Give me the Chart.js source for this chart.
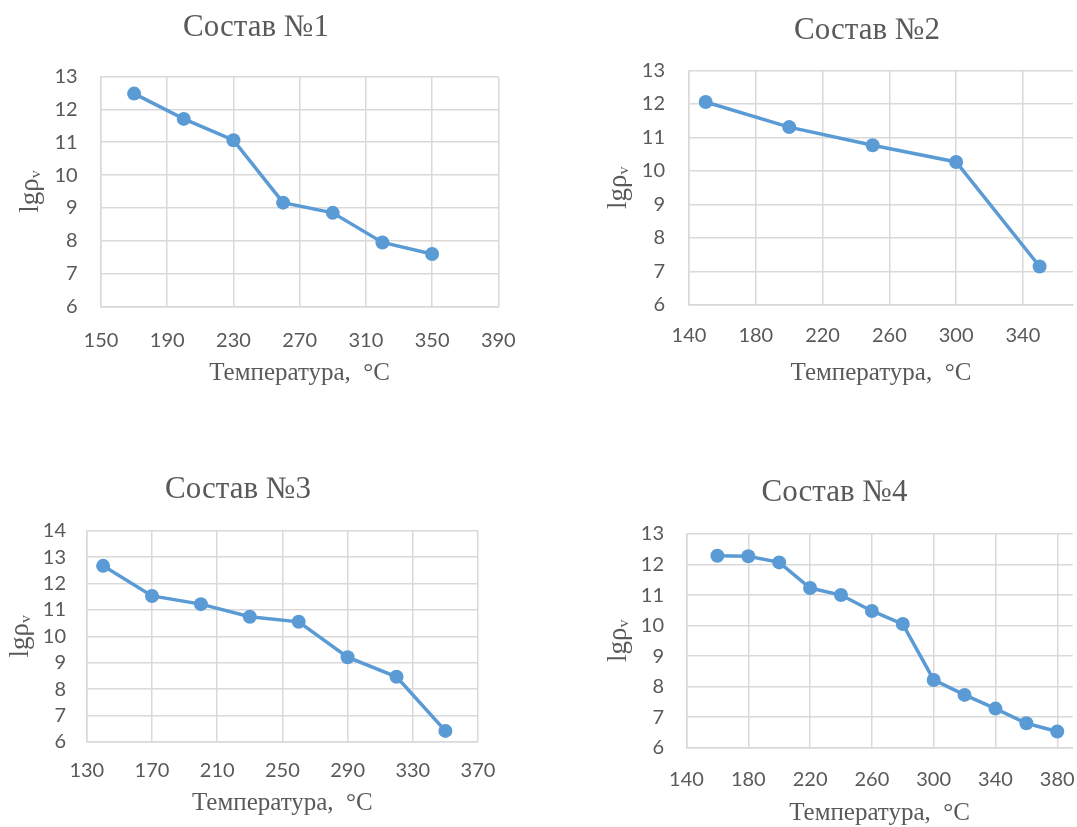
<!DOCTYPE html>
<html>
<head>
<meta charset="utf-8">
<script src="https://cdn.jsdelivr.net/npm/chart.js"></script>
<style>
  html, body { margin: 0; padding: 0; background: #fff; overflow: hidden; width: 1077px; height: 827px; }
  canvas { position: absolute; }
</style>
</head>
<body>
<canvas id="c1" width="545" height="400" style="left:0px;top:0px"></canvas>
<canvas id="c2" width="520" height="400" style="left:560px;top:0px"></canvas>
<canvas id="c3" width="530" height="400" style="left:0px;top:440px"></canvas>
<canvas id="c4" width="540" height="400" style="left:560px;top:440px"></canvas>
<script>
// data
const titles = ["Состав №1", "Состав №2", "Состав №3", "Состав №4"];
const xTitle = "Температура,  °C";
const yTitle = "lgρᵥ";

const temp1 = [170, 200, 230, 260, 290, 320, 350];
const lg1 = [12.48, 11.71, 11.06, 9.16, 8.85, 7.95, 7.6];
const xTicks1 = [150, 190, 230, 270, 310, 350, 390];

const temp2 = [150, 200, 250, 300, 350];
const lg2 = [12.06, 11.31, 10.77, 10.27, 7.15];
const xTicks2 = [140, 180, 220, 260, 300, 340];

const temp3 = [140, 170, 200, 230, 260, 290, 320, 350];
const lg3 = [12.67, 11.53, 11.22, 10.74, 10.55, 9.21, 8.47, 6.42];
const xTicks3 = [130, 170, 210, 250, 290, 330, 370];

const temp4 = [160, 180, 200, 220, 240, 260, 280, 300, 320, 340, 360, 380];
const lg4 = [12.29, 12.27, 12.07, 11.23, 11.0, 10.48, 10.05, 8.22, 7.73, 7.28, 6.8, 6.53];
const xTicks4 = [140, 180, 220, 260, 300, 340, 380];

const BLUE = "#5B9BD5";
const GRID = "#d9d9d9";
const TEXT = "#595959";
const SERIF = '"Liberation Serif", "DejaVu Serif", serif';
const SANS = 'Lato, "Open Sans", sans-serif';

// chart title drawn at a fixed spot, like Excel does
const topTitle = {
  id: "topTitle",
  afterDraw(chart, args, opts) {
    const ctx = chart.ctx;
    ctx.save();
    ctx.font = "31px " + SERIF;
    ctx.fillStyle = TEXT;
    ctx.textAlign = "center";
    ctx.textBaseline = "middle";
    ctx.fillText(opts.text, opts.x, opts.y);
    ctx.restore();
  }
};

function makeChart(id, xs, ys, xticks, o) {
  const pts = xs.map((x, i) => ({ x: x, y: ys[i] }));
  return new Chart(document.getElementById(id), {
    type: "line",
    data: {
      datasets: [{
        data: pts,
        borderColor: BLUE,
        backgroundColor: BLUE,
        borderWidth: 3.5,
        pointRadius: 7,
        pointHoverRadius: 7,
        pointBorderWidth: 0,
        pointBackgroundColor: BLUE,
        tension: 0,
        clip: false
      }]
    },
    options: {
      responsive: false,
      animation: false,
      devicePixelRatio: 1,
      layout: { padding: o.pad },
      plugins: {
        legend: { display: false },
        tooltip: { enabled: false },
        topTitle: { text: o.title, x: o.tx, y: o.ty }
      },
      scales: {
        x: {
          type: "linear",
          min: o.xmin,
          max: o.xmax,
          afterBuildTicks: s => { s.ticks = xticks.map(v => ({ value: v })); },
          afterFit: s => { s.height = o.xh; },
          grid: { color: GRID, lineWidth: 1.5, drawTicks: false },
          border: { color: GRID, width: 1.5 },
          ticks: {
            padding: o.xtp,
            color: TEXT,
            autoSkip: false,
            font: { family: SANS, size: 20 },
            maxRotation: 0
          },
          title: {
            display: true,
            text: xTitle,
            color: TEXT,
            font: { family: SERIF, size: 25 },
            padding: { top: 0, bottom: o.xtitlePad }
          }
        },
        y: {
          min: 6,
          max: o.ymax,
          afterFit: s => { s.width = o.yw; },
          grid: { color: GRID, lineWidth: 1.5, drawTicks: false },
          border: { color: GRID, width: 1.5 },
          ticks: {
            stepSize: 1,
            autoSkip: false,
            padding: o.ytp,
            color: TEXT,
            font: { family: SANS, size: 20 }
          },
          title: {
            display: true,
            text: yTitle,
            color: TEXT,
            font: { family: SERIF, size: 27 },
            padding: { top: o.ytitlePad, bottom: 0 }
          }
        }
      }
    },
    plugins: [topTitle]
  });
}

makeChart("c1", temp1, lg1, xTicks1, {
  title: titles[0], tx: 256, ty: 28.3,
  pad: { left: 8, right: 46.7, top: 76.5, bottom: 0 },
  xmin: 150, xmax: 390, ymax: 13,
  xh: 93.5, yw: 93, xtp: 22.5, ytp: 23.3, xtitlePad: 12, ytitlePad: 6.8
});

makeChart("c2", temp2, lg2, xTicks2, {
  title: titles[1], tx: 307, ty: 30.7,
  pad: { left: 36, right: 2.9, top: 70.5, bottom: 0 },
  xmin: 140, xmax: 370, ymax: 13,
  xh: 95, yw: 93, xtp: 19, ytp: 24, xtitlePad: 11.7, ytitlePad: 6.6
});

makeChart("c3", temp3, lg3, xTicks3, {
  title: titles[2], tx: 238, ty: 50,
  pad: { left: 0, right: 52, top: 90.7, bottom: 0 },
  xmin: 130, xmax: 370, ymax: 14,
  xh: 98, yw: 86.8, xtp: 16.3, ytp: 20.8, xtitlePad: 22, ytitlePad: 5.2
});

makeChart("c4", temp4, lg4, xTicks4, {
  title: titles[3], tx: 274.5, ty: 53,
  pad: { left: 36, right: 27.3, top: 94, bottom: 0 },
  xmin: 140, xmax: 390, ymax: 13,
  xh: 92.3, yw: 90.5, xtp: 20, ytp: 22.5, xtitlePad: 11.3, ytitlePad: 6.6
});
</script>
</body>
</html>
